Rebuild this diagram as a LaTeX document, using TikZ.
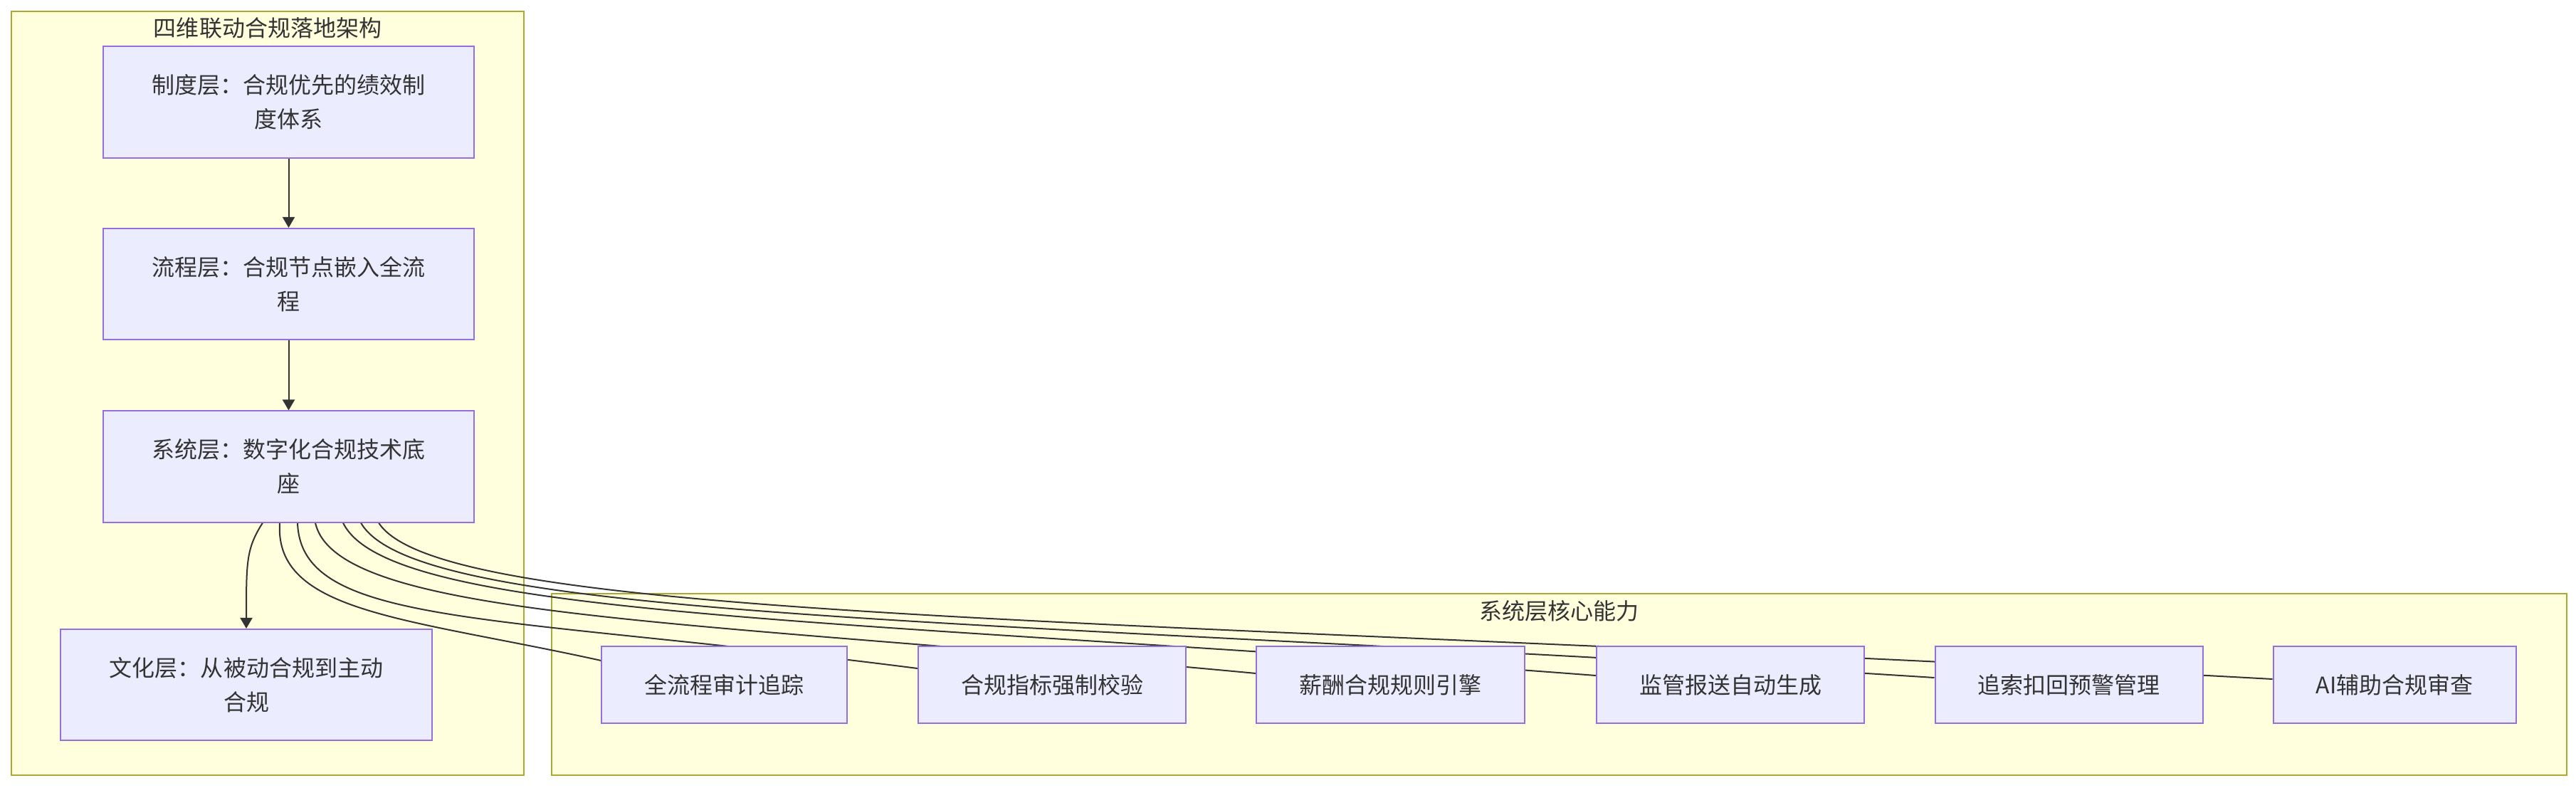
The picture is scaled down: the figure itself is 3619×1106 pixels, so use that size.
\documentclass[tikz,border=0pt]{standalone}
\usepackage{fontspec}
\newfontfamily\cjk{Noto Sans CJK SC}
\usetikzlibrary{arrows.meta}
\definecolor{nodefill}{HTML}{ECECFF}
\definecolor{nodeline}{HTML}{9370DB}
\definecolor{groupfill}{HTML}{FFFFDE}
\definecolor{groupline}{HTML}{AAAA33}
\definecolor{ink}{HTML}{333333}
\pgfdeclarelayer{back}
\pgfdeclarelayer{edges}
\pgfsetlayers{back,edges,main}
\tikzset{
        layer/.style={draw=nodeline, fill=nodefill, line width=0.02cm, minimum width=5.21cm, minimum height=1.56cm, align=center, text=ink, font=\cjk\fontsize{9.1pt}{13.66pt}\selectfont},
        ability/.style={layer, minimum width=0cm, minimum height=1.08cm, inner xsep=0.6cm},
        group/.style={draw=groupline, fill=groupfill, line width=0.02cm},
        grouptitle/.style={text=ink, inner sep=0pt, font=\cjk\fontsize{9.1pt}{13.66pt}\selectfont},
        flow/.style={draw=ink, line width=0.02cm, -{Triangle[length=0.15cm,width=0.17cm]}},
        link/.style={draw=ink, line width=0.02cm}
    }

\begin{document}
\begin{tikzpicture}[x=0.01cm, y=-0.01cm]
            \useasboundingbox (0,0) rectangle (3619,1106);
            \begin{pgfonlayer}{back}
            \fill[white] (0,0) rectangle (3619,1106);
            \node [group, minimum width=7.2cm, minimum height=10.73cm] (g1) at (376, 552.5) {};
            \node [group, minimum width=28.29cm, minimum height=2.55cm] (g2) at (2190.5, 961.5) {};
            \end{pgfonlayer}
            \node [grouptitle] (t1) at (376, 39) {四维联动合规落地架构};
            \node [grouptitle] (t2) at (2190.5, 858) {系统层核心能力};

            \node [layer] (1) at (405.5, 143.5) {制度层：合规优先的绩效制\\度体系};
            \node [layer] (2) at (405.5, 399) {流程层：合规节点嵌入全流\\程};
            \node [layer] (3) at (405.5, 655.5) {系统层：数字化合规技术底\\座};
            \node [layer] (4) at (346, 962) {文化层：从被动合规到主动\\合规};

            \node [ability] (5) at (1017.5, 962) {全流程审计追踪};
            \node [ability] (6) at (1478, 962) {合规指标强制校验};
            \node [ability] (7) at (1953.5, 962) {薪酬合规规则引擎};
            \node [ability] (8) at (2431, 962) {监管报送自动生成};
            \node [ability] (9) at (2906.5, 962) {追索扣回预警管理};
            \node [ability] (10) at (3364, 962) {AI辅助合规审查};

            \begin{pgfonlayer}{edges}
            \draw [flow] (1) -- (2);
            \draw [flow] (2) -- (3);
            \draw [flow] ([xshift=-0.365cm]3.south) .. controls +(-23,36) and +(0,-94) .. (4.north);
            \draw [link] ([xshift=-0.125cm]3.south) .. controls +(-8,127) and +(-272,-60) .. ([yshift=0.34cm]5.west);
            \draw [link] ([xshift=0.125cm]3.south) .. controls +(5,146) and +(-600,-77) .. ([yshift=0.23cm]6.west);
            \draw [link] ([xshift=0.375cm]3.south) .. controls +(30,135) and +(-794,-75) .. ([yshift=0.16cm]7.west);
            \draw [link] ([xshift=0.765cm]3.south) .. controls +(65,135) and +(-1057,-81) .. ([yshift=0.13cm]8.west);
            \draw [link] ([xshift=1.015cm]3.south) .. controls +(80,140) and +(-1327,-85) .. ([yshift=0.10cm]9.west);
            \draw [link] ([xshift=1.265cm]3.south) .. controls +(90,140) and +(-1597,-88) .. ([yshift=0.08cm]10.west);
            \end{pgfonlayer}
        \end{tikzpicture}
\end{document}
